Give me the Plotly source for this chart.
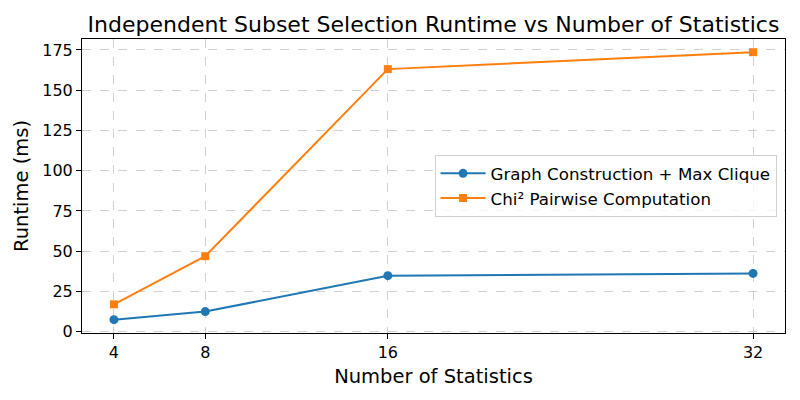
import plotly.graph_objects as go

num_stats = [4, 8, 16, 32]
graph_clique_ms = [7.5, 12.5, 34.8, 36.2]
chi2_pairwise_ms = [17.0, 46.9, 163.1, 173.6]
x_ticks = [4, 8, 16, 32]
y_ticks = [0, 25, 50, 75, 100, 125, 150, 175]

FONT = "DejaVu Sans"

fig = go.Figure()
fig.add_trace(go.Scatter(
    x=num_stats, y=graph_clique_ms, mode="lines+markers",
    name="Graph Construction + Max Clique",
    line=dict(color="#1f77b4", width=2),
    marker=dict(symbol="circle", size=9, color="#1f77b4"),
))
fig.add_trace(go.Scatter(
    x=num_stats, y=chi2_pairwise_ms, mode="lines+markers",
    name="Chi² Pairwise Computation",
    line=dict(color="#ff7f0e", width=2),
    marker=dict(symbol="square", size=8, color="#ff7f0e"),
))

axis_common = dict(
    showline=True, linecolor="black", linewidth=1, mirror=True,
    ticks="outside", ticklen=5, tickwidth=1, tickcolor="black",
    showgrid=True, gridcolor="rgba(176,176,176,0.6)", griddash="dash", gridwidth=1,
    zeroline=False,
    tickfont=dict(family=FONT, size=16, color="black"),
)

fig.update_layout(
    width=800, height=400,
    paper_bgcolor="white", plot_bgcolor="white",
    margin=dict(l=82, r=15, t=39, b=67),
    title=dict(text="Independent Subset Selection Runtime vs Number of Statistics",
               font=dict(family=FONT, size=22, color="black"),
               x=0.5, xref="paper", xanchor="center", y=0.94, yanchor="middle"),
    xaxis=dict(axis_common, range=[2.6, 33.4], tickvals=x_ticks,
               title=dict(text="Number of Statistics", font=dict(family=FONT, size=19.5, color="black"), standoff=8)),
    yaxis=dict(axis_common, range=[-0.8, 181.8], tickvals=y_ticks,
               title=dict(text="Runtime (ms)", font=dict(family=FONT, size=19.5, color="black"), standoff=8)),
    legend=dict(x=0.988, xanchor="right", y=0.5, yanchor="middle",
                bgcolor="rgba(255,255,255,0.8)", bordercolor="#d0d0d0", borderwidth=1,
                itemwidth=45,
                font=dict(family=FONT, size=16.7, color="black")),
    showlegend=True,
)

fig.write_html("out.html", config={"displayModeBar": False},
               post_script="document.body.style.margin='0';")
